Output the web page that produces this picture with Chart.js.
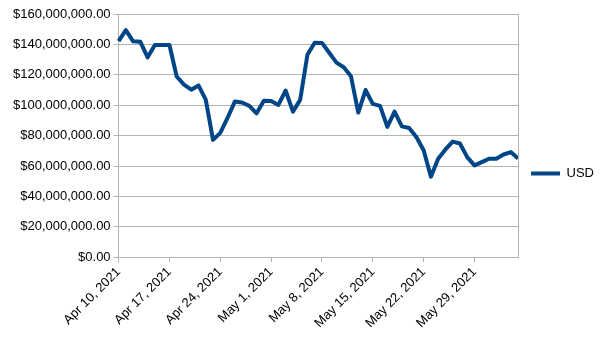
<!DOCTYPE html>
<html>
<head>
<meta charset="utf-8">
<script src="https://cdn.jsdelivr.net/npm/chart.js@4"></script>
<style>
  body { margin: 0; background: #fff; }
  canvas { display: block; }
</style>
</head>
<body>
<canvas id="chart" width="605" height="340"></canvas>
<script>
// daily dates, Apr 10 - Jun 4 2021
const days = [
  "Apr 10, 2021","Apr 11, 2021","Apr 12, 2021","Apr 13, 2021","Apr 14, 2021","Apr 15, 2021","Apr 16, 2021",
  "Apr 17, 2021","Apr 18, 2021","Apr 19, 2021","Apr 20, 2021","Apr 21, 2021","Apr 22, 2021","Apr 23, 2021",
  "Apr 24, 2021","Apr 25, 2021","Apr 26, 2021","Apr 27, 2021","Apr 28, 2021","Apr 29, 2021","Apr 30, 2021",
  "May 1, 2021","May 2, 2021","May 3, 2021","May 4, 2021","May 5, 2021","May 6, 2021","May 7, 2021",
  "May 8, 2021","May 9, 2021","May 10, 2021","May 11, 2021","May 12, 2021","May 13, 2021","May 14, 2021",
  "May 15, 2021","May 16, 2021","May 17, 2021","May 18, 2021","May 19, 2021","May 20, 2021","May 21, 2021",
  "May 22, 2021","May 23, 2021","May 24, 2021","May 25, 2021","May 26, 2021","May 27, 2021","May 28, 2021",
  "May 29, 2021","May 30, 2021","May 31, 2021","Jun 1, 2021","Jun 2, 2021","Jun 3, 2021","Jun 4, 2021"
];
// USD in millions
const usdMillions = [
  142.2, 149.4, 142.0, 141.7, 131.5, 139.6, 139.6,
  139.6, 118.9, 113.5, 110.2, 113.0, 103.7, 77.2,
  81.8, 91.6, 102.4, 101.8, 99.6, 94.7, 103.0,
  102.8, 100.2, 109.7, 95.8, 103.5, 133.2, 141.1,
  141.0, 134.5, 128.0, 125.0, 119.0, 95.2, 110.0,
  100.9, 99.6, 85.7, 95.8, 86.1, 85.0, 79.1,
  70.4, 53.0, 64.8, 70.9, 76.1, 74.8, 65.9,
  60.4, 62.6, 64.8, 64.8, 67.6, 69.2, 65.0
];
const weeklyLabels = ["Apr 10, 2021","Apr 17, 2021","Apr 24, 2021","May 1, 2021","May 8, 2021","May 15, 2021","May 22, 2021","May 29, 2021"];
const yMax  = 160000000;
const yStep = 20000000;

const gridCol = "#b3b3b3";
Chart.defaults.font.family = "'Liberation Sans', Arial, sans-serif";
Chart.defaults.font.size = 13;
Chart.defaults.color = "#000";

const money = v => "$" + Number(v).toLocaleString("en-US", { minimumFractionDigits: 2, maximumFractionDigits: 2 });

// thin frame line on the right side of the plot
const rightEdge = {
  id: "rightEdge",
  afterDatasetsDraw(chart) {
    const a = chart.chartArea, c = chart.ctx;
    c.save();
    c.strokeStyle = gridCol;
    c.lineWidth = 1;
    c.beginPath();
    c.moveTo(Math.round(a.right) + 0.5, a.top);
    c.lineTo(Math.round(a.right) + 0.5, a.bottom);
    c.stroke();
    c.restore();
  }
};

new Chart(document.getElementById("chart").getContext("2d"), {
  type: "line",
  data: {
    labels: days,
    datasets: [{
      label: "USD",
      data: usdMillions.map(v => v * 1000000),
      borderColor: "#004586",
      backgroundColor: "#004586",
      borderWidth: 4,
      pointRadius: 0,
      tension: 0,
      borderJoinStyle: "round"
    }]
  },
  options: {
    responsive: false,
    animation: false,
    layout: { padding: { top: 14, right: 1, bottom: 7, left: 10 } },
    plugins: {
      tooltip: { enabled: false },
      legend: {
        position: "right",
        labels: { usePointStyle: true, pointStyle: "line", pointStyleWidth: 29, padding: 13 }
      }
    },
    scales: {
      x: {
        offset: false,
        grid: { drawOnChartArea: false, color: gridCol, tickLength: 5 },
        border: { color: gridCol },
        ticks: {
          autoSkip: false, minRotation: 45, maxRotation: 45, padding: 2,
          callback: function (v) {
            const l = this.getLabelForValue(v);
            return weeklyLabels.includes(l) ? l : null;
          }
        }
      },
      y: {
        min: 0, max: yMax,
        grid: { color: gridCol, tickLength: 5 },
        border: { color: gridCol },
        ticks: { stepSize: yStep, padding: 3, callback: v => money(v) }
      }
    }
  },
  plugins: [rightEdge]
});
</script>
</body>
</html>
